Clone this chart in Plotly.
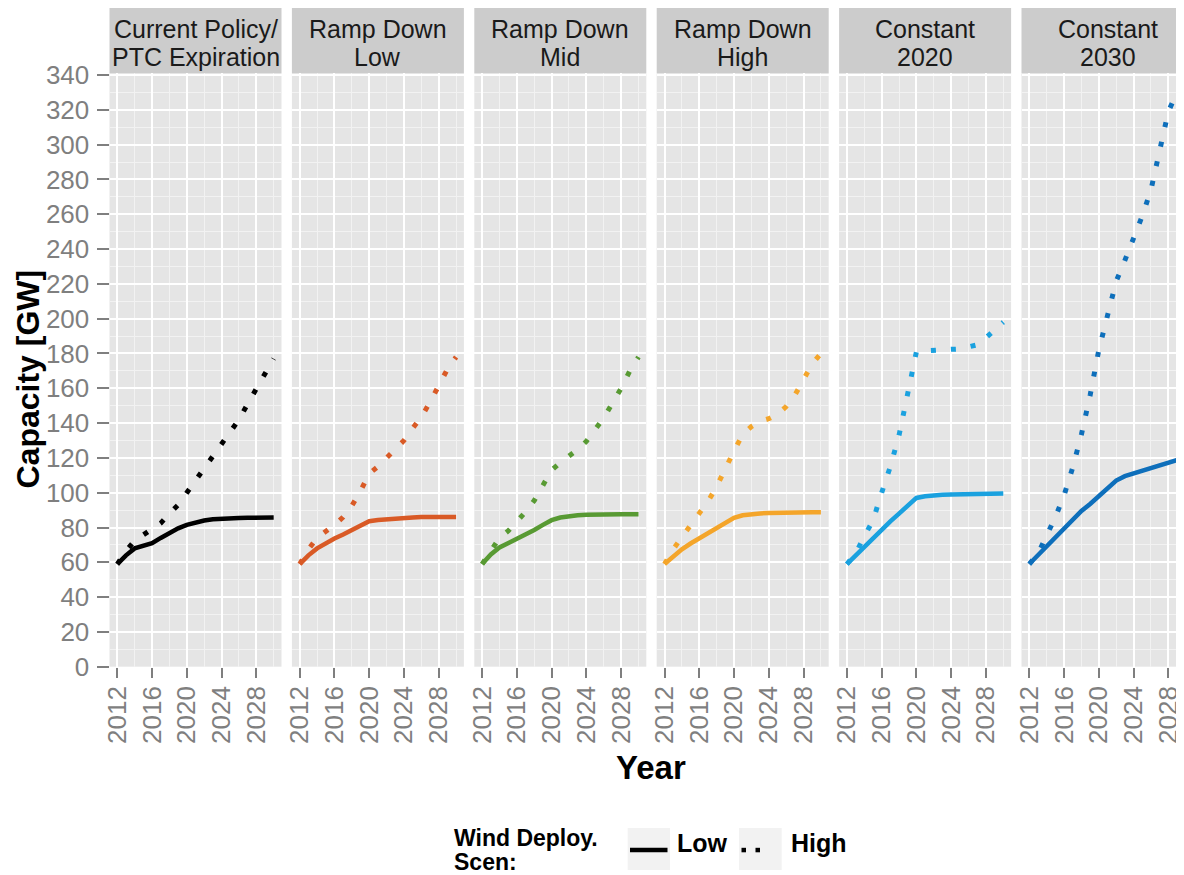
import plotly.graph_objects as go

# ---------------- data ----------------
years = list(range(2012, 2031))

facet_line1 = ["Current Policy/", "Ramp Down", "Ramp Down", "Ramp Down", "Constant", "Constant"]
facet_line2 = ["PTC Expiration", "Low", "Mid", "High", "2020", "2030"]

cp_low = [59, 64, 68, 69.5, 71, 74, 77, 79.5, 81.5, 83, 84, 84.7, 85.1, 85.3, 85.5, 85.6, 85.7, 85.8, 85.8]
cp_high = [59, 66.5, 72.5, 76, 79.5, 82.5, 88, 93, 100, 107, 114, 121, 128.5, 135.5, 142, 151, 160, 169, 177]

rdl_low = [59, 64, 68, 71, 73.7, 76, 78.5, 81, 83.6, 84.3, 84.8, 85.2, 85.5, 85.8, 86, 86.1, 86.1, 86.1, 86.1]
rdl_high = [59, 67.5, 74, 77.5, 81.5, 86, 92.5, 101, 111, 115, 120, 124.3, 130, 137, 143.5, 152, 161.5, 171, 178]

rdm_low = [59, 64.5, 68.5, 71, 73.2, 76, 78.6, 81.5, 84.2, 85.7, 86.5, 87, 87.3, 87.5, 87.6, 87.6, 87.6, 87.6, 87.6]
rdm_high = [59, 66, 74, 78, 83, 89, 95.5, 104, 113, 117.3, 121, 124.8, 129.5, 136.5, 143, 151.5, 160, 170, 178]

rdh_low = [59, 63.5, 67.5, 70.8, 73.6, 76.6, 79.4, 82.5, 85.5, 87, 87.8, 88.1, 88.3, 88.5, 88.6, 88.7, 88.8, 88.8, 88.8]
rdh_high = [59, 67.5, 74.5, 81.5, 88, 95, 103.5, 114.5, 124, 133.5, 138, 141, 142.5, 145, 149.5, 156, 165, 174, 180]

c20_low = [59, 64, 69, 74, 79, 83.5, 88, 92.5, 97, 97.9, 98.5, 98.8, 99, 99.2, 99.4, 99.5, 99.6, 99.6, 99.6]
c20_high = [59, 65, 75, 84, 100, 115, 133, 158, 181, 181.5, 182, 182.2, 182.4, 182.6, 183.5, 185, 189, 194, 198]

c30_low = [59, 64, 69, 74, 79, 84.5, 89.5, 93.5, 98, 102.5, 107, 109.5, 111, 112.5, 114, 115.3, 116.8, 118.8, 121]
c30_high = [59, 65, 75.5, 86, 98.5, 114.5, 133.5, 156, 182, 203, 221.5, 233.5, 245.5, 259, 274, 297, 319, 330, 338]

low_series = [cp_low, rdl_low, rdm_low, rdh_low, c20_low, c30_low]
high_series = [cp_high, rdl_high, rdm_high, rdh_high, c20_high, c30_high]
colors = ["#000000", "#D95A26", "#589A33", "#F4A52A", "#1AA1DF", "#0E6FBB"]

x_ticks = [2012, 2016, 2020, 2024, 2028]
y_ticks = list(range(0, 341, 20))

legend_title = ["Wind Deploy.", "Scen:"]
legend_labels = ["Low", "High"]
x_title = "Year"
y_title = "Capacity [GW]"

# ---------------- layout geometry (page pixels) ----------------
W, H = 1184, 875
OFF = 8          # the html page body margin offsets the figure by 8px
VIEW_W = 1184    # visible window width
FONT = "Liberation Sans, Arial, Helvetica, sans-serif"
panel_left0 = 109.5
panel_step = 182.4
panel_w = 172.0
x_lo, x_hi = 2011.1, 2030.9
px_per_year = panel_w / (x_hi - x_lo)
panel_top, panel_bottom = 73.0, 666.7
strip_top = 7.0
y_max = 341.2


def fx(p):
    return (p - OFF) / W


def fy(p):
    return 1 - max(p - OFF, 0) / H


fig = go.Figure()

axis_common = dict(
    showline=False, zeroline=False, automargin=False,
    gridcolor="#FFFFFF", gridwidth=2,
    ticks="outside", tickwidth=1.5, tickcolor="#7F7F7F",
    tickfont=dict(family=FONT, size=26, color="#7F7F7F"),
)

layout_axes = {}
for i in range(6):
    left = panel_left0 + panel_step * i
    right = left + panel_w
    rng_hi = x_hi
    if right > VIEW_W:
        rng_hi = x_lo + (VIEW_W - left) / px_per_year
        right = VIEW_W
    name = "xaxis" if i == 0 else f"xaxis{i + 1}"
    layout_axes[name] = dict(
        axis_common,
        domain=[fx(left), fx(right)],
        range=[x_lo, rng_hi],
        anchor="y",
        ticklen=10, ticklabelstandoff=-2,
        tickmode="array", tickvals=x_ticks, ticktext=[str(t) for t in x_ticks],
        tickangle=-90,
        minor=dict(tickmode="linear", tick0=2010, dtick=2, showgrid=True,
                   gridcolor="#F2F2F2", gridwidth=1, ticks=""),
    )
    xa = "x" if i == 0 else f"x{i + 1}"
    fig.add_trace(go.Scatter(
        x=years, y=low_series[i], mode="lines", xaxis=xa, yaxis="y",
        line=dict(color=colors[i], width=4.5), showlegend=False,
        hoverinfo="skip"))
    fig.add_trace(go.Scatter(
        x=years, y=high_series[i], mode="lines", xaxis=xa, yaxis="y",
        line=dict(color=colors[i], width=5, dash="5px,15px"), showlegend=False,
        hoverinfo="skip"))

layout_axes["yaxis"] = dict(
    axis_common,
    domain=[fy(panel_bottom), fy(panel_top)],
    range=[0, y_max],
    anchor="x",
    ticklen=12, ticklabelstandoff=2,
    tickmode="array", tickvals=y_ticks, ticktext=[str(t) for t in y_ticks],
    minor=dict(tickmode="linear", tick0=10, dtick=20, showgrid=True,
               gridcolor="#F2F2F2", gridwidth=1, ticks=""),
)

shapes = []
annotations = []
for i in range(6):
    left = panel_left0 + panel_step * i
    right = left + panel_w
    shapes.append(dict(type="rect", xref="paper", yref="paper",
                       x0=fx(left), x1=fx(right), y0=fy(panel_top), y1=fy(strip_top),
                       fillcolor="#CCCCCC", line=dict(width=0), layer="below"))
    cx = (left + right) / 2
    annotations.append(dict(text=facet_line1[i], x=fx(cx), y=fy(29), xref="paper", yref="paper",
                            xanchor="center", yanchor="middle", showarrow=False,
                            font=dict(family=FONT, size=25, color="#1A1A1A")))
    annotations.append(dict(text=facet_line2[i], x=fx(cx), y=fy(57), xref="paper", yref="paper",
                            xanchor="center", yanchor="middle", showarrow=False,
                            font=dict(family=FONT, size=25, color="#1A1A1A")))

# axis titles
annotations.append(dict(text=f"<b>{x_title}</b>", x=fx(651), y=fy(767), xref="paper", yref="paper",
                        xanchor="center", yanchor="middle", showarrow=False,
                        font=dict(family=FONT, size=33, color="#000000")))
annotations.append(dict(text=f"<b>{y_title}</b>", x=fx(27.5), y=fy(379), xref="paper", yref="paper",
                        xanchor="center", yanchor="middle", showarrow=False, textangle=-90,
                        font=dict(family=FONT, size=32, color="#000000")))

# legend (drawn manually, ggplot style)
annotations.append(dict(text=f"<b>{legend_title[0]}</b>", x=fx(452), y=fy(838), xref="paper", yref="paper",
                        xanchor="left", yanchor="middle", showarrow=False,
                        font=dict(family=FONT, size=23, color="#000000")))
annotations.append(dict(text=f"<b>{legend_title[1]}</b>", x=fx(452), y=fy(862), xref="paper", yref="paper",
                        xanchor="left", yanchor="middle", showarrow=False,
                        font=dict(family=FONT, size=23, color="#000000")))
for (k0, k1) in [(627.7, 670.0), (739.0, 781.7)]:
    shapes.append(dict(type="rect", xref="paper", yref="paper",
                       x0=fx(k0), x1=fx(k1), y0=fy(870), y1=fy(828),
                       fillcolor="#F2F2F2", line=dict(width=0)))
shapes.append(dict(type="line", xref="paper", yref="paper",
                   x0=fx(630), x1=fx(667.5), y0=fy(850), y1=fy(850),
                   line=dict(color="#000000", width=4.5)))
for dx in [741.5, 755.5]:
    shapes.append(dict(type="rect", xref="paper", yref="paper",
                       x0=fx(dx), x1=fx(dx + 4.5), y0=fy(852.3), y1=fy(847.8),
                       fillcolor="#000000", line=dict(width=0)))
annotations.append(dict(text=f"<b>{legend_labels[0]}</b>", x=fx(675), y=fy(843), xref="paper", yref="paper",
                        xanchor="left", yanchor="middle", showarrow=False,
                        font=dict(family=FONT, size=25, color="#000000")))
annotations.append(dict(text=f"<b>{legend_labels[1]}</b>", x=fx(789), y=fy(843), xref="paper", yref="paper",
                        xanchor="left", yanchor="middle", showarrow=False,
                        font=dict(family=FONT, size=25, color="#000000")))

fig.update_layout(
    width=W, height=H,
    margin=dict(l=0, r=0, t=0, b=0),
    paper_bgcolor="#FFFFFF", plot_bgcolor="#E5E5E5",
    showlegend=False,
    shapes=shapes, annotations=annotations,
    font=dict(family=FONT),
    **layout_axes,
)

fig.write_html("out.html")
